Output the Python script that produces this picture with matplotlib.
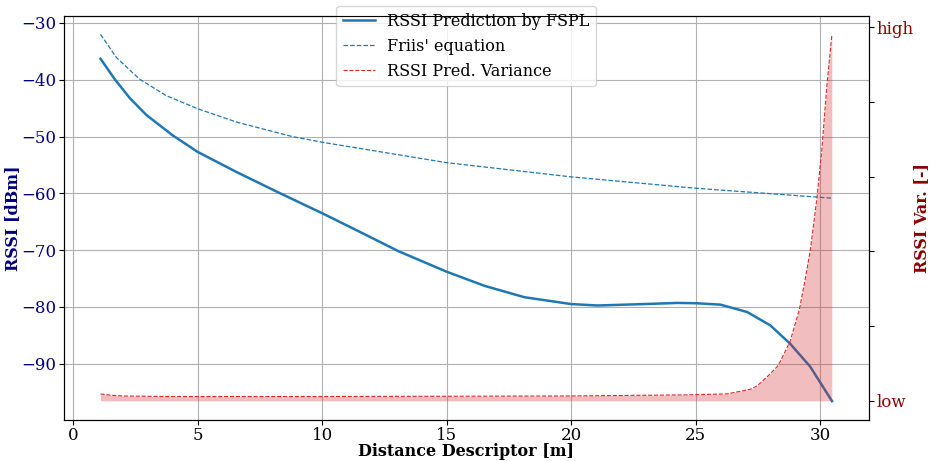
import matplotlib
matplotlib.use("Agg")
import matplotlib.pyplot as plt

# values
dist_fspl = [1.1, 1.67, 2.27, 2.94, 4.0, 5.0, 6.54, 8.27, 10.0, 11.2, 13.07, 15.0, 16.53,
             18.13, 20.0, 21.07, 22.94, 24.27, 25.0, 26.0, 27.07, 28.0, 28.8, 29.6, 30.48]
rssi_fspl = [-36.3, -39.9, -43.2, -46.2, -49.8, -52.7, -56.2, -59.9, -63.5, -66.1, -70.2, -73.8, -76.3,
             -78.3, -79.5, -79.75, -79.5, -79.3, -79.35, -79.6, -80.9, -83.25, -86.5, -90.5, -96.6]

dist_friis = [1.1, 1.74, 2.67, 3.74, 5.0, 6.6, 8.8, 10.0, 15.0, 20.0, 25.0, 30.0, 30.48]
rssi_friis = [-32.0, -36.1, -39.9, -42.8, -45.1, -47.5, -50.0, -51.0, -54.6, -57.1, -59.1, -60.7, -60.85]

dist_var = [1.1, 1.5, 2.0, 3.8, 10.0, 20.0, 24.67, 26.27, 27.2, 27.47, 27.87, 28.27, 28.4,
            28.8, 29.17, 29.4, 29.6, 29.87, 30.07, 30.27, 30.47]
rssi_var = [0.0185, 0.015, 0.013, 0.0115, 0.0115, 0.013, 0.016, 0.0185, 0.031, 0.04, 0.064, 0.091, 0.105,
            0.16, 0.245, 0.325, 0.40, 0.541, 0.673, 0.841, 0.978]

var_ticks = [0, 0.2, 0.4, 0.6, 0.8, 1.0]
var_labels = ["low", "", "", "", "", "high"]

plt.rcParams["font.family"] = "DejaVu Serif"
plt.rcParams["font.size"] = 12

fig, ax = plt.subplots(figsize=(9.31, 4.61), dpi=100)
fig.subplots_adjust(left=0.0687, right=0.933, top=0.9653, bottom=0.09)

l1, = ax.plot(dist_fspl, rssi_fspl, color="tab:blue", lw=1.8, label="RSSI Prediction by FSPL")
l2, = ax.plot(dist_friis, rssi_friis, color="tab:blue", lw=0.9, ls="--", label="Friis' equation")
ax.grid(True, color="#b0b0b0")
ax.set_xlabel("Distance Descriptor [m]", fontweight="bold", fontsize=11.5, labelpad=-1)
ax.set_ylabel("RSSI [dBm]", fontweight="bold", fontsize=11.5, color="navy", labelpad=0)
ax.tick_params(axis="both", pad=2)
ax.tick_params(axis="y", labelcolor="navy")

ax2 = ax.twinx()
l3, = ax2.plot(dist_var, rssi_var, color="tab:red", lw=0.8, ls="--", label="RSSI Pred. Variance")
ax2.fill_between(dist_var, 0, rssi_var, color="tab:red", alpha=0.3, lw=0)
ax2.set_yticks(var_ticks)
ax2.set_yticklabels(var_labels)
ax2.set_ylim(-0.05, 1.03)
ax2.set_ylabel("RSSI Var. [-]", fontweight="bold", fontsize=11.5, color="darkred", labelpad=-0.5)
ax2.tick_params(axis="y", labelcolor="darkred", pad=2)

ax.legend(handles=[l1, l2, l3], loc="upper center", bbox_to_anchor=(0.5, 1.044), fontsize=11.5)

plt.savefig("out.png", dpi=100)
